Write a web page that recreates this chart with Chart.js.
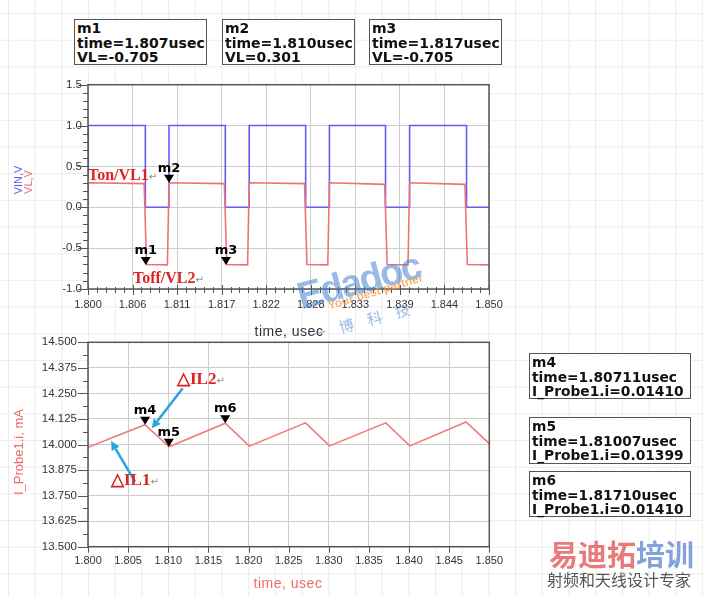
<!DOCTYPE html>
<html>
<head>
<meta charset="utf-8">
<script src="https://cdn.jsdelivr.net/npm/chart.js@4.4.1/dist/chart.umd.min.js"></script>
<style>
  body { margin: 0; }
  #page {
    position: relative; width: 703px; height: 597px; overflow: hidden;
    background-color: #fff;
    background-image:
      linear-gradient(to right, #ececec 1px, transparent 1px),
      linear-gradient(to bottom, #ececec 1px, transparent 1px);
    background-size: 26.7px 26.7px;
    background-position: 8px 13px;
    font-family: "Liberation Sans", Arial, sans-serif;
  }
  canvas { position: absolute; left: 0; }
  .box {
    position: absolute; box-sizing: border-box; background: #fff;
    border: 1.5px solid #555; padding: 1px 0 0 2px;
    font: bold 14px "DejaVu Sans", sans-serif; line-height: 14.5px; color: #111;
    white-space: nowrap;
  }
  .box.r { font-size: 13.8px; }
  .t { position: absolute; white-space: nowrap; line-height: 1; }
  .note { font: bold 16px "Liberation Serif", "Times New Roman", serif; color: #dd2222; }
  .ret { font: 10px "DejaVu Sans", sans-serif; color: #888; }
  .rot { transform: translate(-50%, -50%) rotate(-90deg); }
</style>
</head>
<body>
<div id="page">
  <canvas id="top" width="703" height="345" style="top:0"></canvas>
  <canvas id="bottom" width="703" height="277" style="top:320px"></canvas>

  <div class="box" style="left:74px;top:19px;width:133px;height:46px">m1<br>time=1.807usec<br>VL=-0.705</div>
  <div class="box" style="left:222px;top:19px;width:133px;height:46px">m2<br>time=1.810usec<br>VL=0.301</div>
  <div class="box" style="left:369px;top:19px;width:133px;height:46px">m3<br>time=1.817usec<br>VL=-0.705</div>

  <div class="box r" style="left:529px;top:353px;width:162px;height:46px">m4<br>time=1.80711usec<br>I_Probe1.i=0.01410</div>
  <div class="box r" style="left:529px;top:417px;width:162px;height:47px">m5<br>time=1.81007usec<br>I_Probe1.i=0.01399</div>
  <div class="box r" style="left:529px;top:471px;width:162px;height:46px">m6<br>time=1.81710usec<br>I_Probe1.i=0.01410</div>

  <div class="t rot" style="left:17.5px;top:180px;font-size:11px;color:#5a5af0">VIN,V</div>
  <div class="t rot" style="left:28px;top:182px;font-size:11px;color:#f06a70">VL,V</div>
  <div class="t" style="left:289px;top:331px;transform:translate(-50%,-50%);font-size:14px;letter-spacing:0.5px;color:#333">time, usec</div>
  <div class="t rot" style="left:18px;top:452px;font-size:13px;color:#ee6a6a">I_Probe1.i, mA</div>
  <div class="t" style="left:288px;top:583px;transform:translate(-50%,-50%);font-size:14px;letter-spacing:0.5px;color:#ee6a6a">time, usec</div>

  <div class="t note" style="left:88px;top:166px">Ton/VL1<span class="ret">↵</span></div>
  <div class="t note" style="left:133px;top:269px">Toff/VL2<span class="ret">↵</span></div>
  <div class="t note" style="left:177px;top:368px;font-size:17px">△IL2<span class="ret">↵</span></div>
  <div class="t note" style="left:111px;top:469px;font-size:17px">△IL1<span class="ret">↵</span></div>

  <div class="t" style="left:298px;top:276px;transform-origin:left center;transform:rotate(-15deg);font:bold 38px 'Liberation Sans',Arial,sans-serif;letter-spacing:-2px;color:rgba(70,130,205,0.55)">Edadoc</div>
  <div class="t" style="left:328px;top:299px;transform-origin:left center;transform:rotate(-17deg);font:bold 12px 'Liberation Sans',Arial,sans-serif;color:rgba(240,150,60,0.7)">Your best partner</div>
  <div class="t" style="left:311px;top:324px;transform-origin:left center;transform:rotate(-15deg);font:15px 'Noto Sans CJK SC',sans-serif;letter-spacing:14px;color:rgba(70,130,205,0.55)">一博科技</div>

  <div class="t" style="left:549px;top:538px;font:bold 29px 'Noto Sans CJK SC',sans-serif;line-height:30px"><span style="color:#e87a7a">易迪拓</span><span style="color:#84a2d8">培训</span></div>
  <div class="t" style="left:547px;top:571px;font:16px 'Noto Sans CJK SC',sans-serif;line-height:17px;color:#555">射频和天线设计专家</div>
</div>

<script>
// ---- top chart: VIN and VL versus time (usec)
const vinTime = [1.8, 1.80003, 1.80715, 1.80715, 1.8101, 1.8101, 1.81712, 1.81712, 1.8201, 1.8201,
                 1.82714, 1.82714, 1.8301, 1.8301, 1.8371, 1.8371, 1.8401, 1.8401, 1.8472, 1.8472, 1.85];
const vinValues = [0.35, 1, 1, 0, 0, 1, 1, 0, 0, 1,
                   1, 0, 0, 1, 1, 0, 0, 1, 1, 0, 0];

const vlTime = [1.8, 1.80003, 1.8070, 1.8073, 1.8099, 1.8101, 1.8170, 1.8173, 1.8199, 1.8201,
                1.8270, 1.8273, 1.8299, 1.8301, 1.8370, 1.8373, 1.8399, 1.8401, 1.8470, 1.8473, 1.85];
const vlValues = [-0.40, 0.30, 0.29, -0.70, -0.705, 0.30, 0.29, -0.70, -0.705, 0.30,
                  0.29, -0.70, -0.705, 0.30, 0.28, -0.70, -0.705, 0.30, 0.28, -0.70, -0.705];

const topXTicks = [1.8, 1.805556, 1.811111, 1.816667, 1.822222, 1.827778, 1.833333, 1.838889, 1.844444, 1.85];
const topYTicks = [-1.0, -0.5, 0.0, 0.5, 1.0, 1.5];

const topMarkerNames = ['m1', 'm2', 'm3'];
const topMarkerTime = [1.8072, 1.8101, 1.8172];
const topMarkerValue = [-0.705, 0.301, -0.705];

// ---- bottom chart: inductor current (mA)
const ilTime = [1.8, 1.8071, 1.8101, 1.8171, 1.8201, 1.8271, 1.8301, 1.8371, 1.8401, 1.8471, 1.85];
const ilValues = [13.986, 14.097, 13.989, 14.104, 13.992, 14.106, 13.993, 14.106, 13.993, 14.110, 14.004];

const bottomXTicks = [1.800, 1.805, 1.810, 1.815, 1.820, 1.825, 1.830, 1.835, 1.840, 1.845, 1.850];
const bottomYTicks = [13.5, 13.625, 13.75, 13.875, 14.0, 14.125, 14.25, 14.375, 14.5];

const bottomMarkerNames = ['m4', 'm5', 'm6'];
const bottomMarkerTime = [1.80711, 1.81007, 1.8171];
const bottomMarkerValue = [14.097, 13.989, 14.104];

// delta-IL arrows: [fromTime, fromValue, toTime, toValue]
const ilArrows = [
  [1.81180, 14.275, 1.80794, 14.079],
  [1.80586, 13.818, 1.80287, 14.017]
];

const pts = (xs, ys) => xs.map((x, i) => ({ x, y: ys[i] }));

function minorBetween(majors, parts) {
  const out = [];
  for (let i = 0; i < majors.length - 1; i++) {
    for (let k = 1; k < parts; k++) out.push(majors[i] + (majors[i + 1] - majors[i]) * k / parts);
  }
  return out;
}

// white plot area, frame, tick marks, markers, arrows
const plotDeco = {
  id: 'plotDeco',
  beforeDraw(chart) {
    const { ctx, chartArea: a } = chart;
    ctx.save();
    ctx.fillStyle = '#fff';
    ctx.fillRect(a.left, a.top, a.right - a.left, a.bottom - a.top);
    ctx.restore();
  },
  afterDatasetsDraw(chart, args, o) {
    const { ctx, chartArea: a, scales: { x, y } } = chart;
    ctx.save();
    ctx.strokeStyle = '#555';
    ctx.lineWidth = 1.5;
    ctx.strokeRect(a.left, a.top, a.right - a.left, a.bottom - a.top);

    ctx.lineWidth = 1;
    ctx.beginPath();
    o.xMajor.forEach(v => {
      const px = Math.round(x.getPixelForValue(v)) + 0.5;
      ctx.moveTo(px, a.bottom - o.xMajorLen[0]); ctx.lineTo(px, a.bottom + o.xMajorLen[1]);
    });
    o.xMinor.forEach(v => {
      const px = Math.round(x.getPixelForValue(v)) + 0.5;
      ctx.moveTo(px, a.bottom - o.xMinorLen[0]); ctx.lineTo(px, a.bottom + o.xMinorLen[1]);
    });
    o.yMajor.forEach(v => {
      const py = Math.round(y.getPixelForValue(v)) + 0.5;
      ctx.moveTo(a.left - o.yMajorLen, py); ctx.lineTo(a.left, py);
    });
    o.yMinor.forEach(v => {
      const py = Math.round(y.getPixelForValue(v)) + 0.5;
      ctx.moveTo(a.left - o.yMinorLen, py); ctx.lineTo(a.left, py);
    });
    ctx.stroke();

    // marker triangles, tip on the data point
    ctx.fillStyle = '#000';
    ctx.font = 'bold 13px "DejaVu Sans", sans-serif';
    ctx.textAlign = 'center';
    ctx.textBaseline = 'bottom';
    o.markers.names.forEach((name, i) => {
      const px = x.getPixelForValue(o.markers.time[i]);
      const py = y.getPixelForValue(o.markers.value[i]);
      ctx.beginPath();
      ctx.moveTo(px, py);
      ctx.lineTo(px - 5, py - 8);
      ctx.lineTo(px + 5, py - 8);
      ctx.closePath();
      ctx.fill();
      ctx.fillText(name, px, py - 8);
    });

    // arrows
    ctx.strokeStyle = '#27a4dd';
    ctx.fillStyle = '#27a4dd';
    ctx.lineWidth = 2.5;
    (o.arrows || []).forEach(([t0, v0, t1, v1]) => {
      const x0 = x.getPixelForValue(t0), y0 = y.getPixelForValue(v0);
      const x1 = x.getPixelForValue(t1), y1 = y.getPixelForValue(v1);
      const ang = Math.atan2(y1 - y0, x1 - x0);
      const hx = x1 - 9 * Math.cos(ang), hy = y1 - 9 * Math.sin(ang);
      ctx.beginPath(); ctx.moveTo(x0, y0); ctx.lineTo(hx, hy); ctx.stroke();
      ctx.beginPath();
      ctx.moveTo(x1, y1);
      ctx.lineTo(hx + 4.5 * Math.sin(ang), hy - 4.5 * Math.cos(ang));
      ctx.lineTo(hx - 4.5 * Math.sin(ang), hy + 4.5 * Math.cos(ang));
      ctx.closePath();
      ctx.fill();
    });
    ctx.restore();
  }
};

const tickFont = { family: '"Liberation Sans", Arial, sans-serif', size: 11 };
const gridOpts = { color: '#cdcdcd', lineWidth: 1, drawTicks: false };

function makeChart(id, cfg) {
  return new Chart(document.getElementById(id), {
    type: 'line',
    data: { datasets: cfg.datasets },
    plugins: [plotDeco],
    options: {
      responsive: false,
      animation: false,
      devicePixelRatio: 1,
      layout: { padding: cfg.padding },
      elements: { point: { radius: 0 }, line: { tension: 0 } },
      plugins: {
        legend: { display: false },
        tooltip: { enabled: false },
        plotDeco: cfg.deco
      },
      scales: {
        x: {
          type: 'linear', min: 1.8, max: 1.85,
          border: { display: false },
          grid: gridOpts,
          afterBuildTicks: s => { s.ticks = cfg.xTicks.map(v => ({ value: v })); },
          afterFit: s => { s.height = cfg.xHeight; },
          ticks: {
            autoSkip: false, maxRotation: 0, padding: cfg.xPad,
            color: '#333', font: tickFont,
            callback: v => v.toFixed(3)
          }
        },
        y: {
          type: 'linear', min: cfg.yMin, max: cfg.yMax,
          border: { display: false },
          grid: gridOpts,
          afterBuildTicks: s => { s.ticks = cfg.yTicks.map(v => ({ value: v })); },
          afterFit: s => { s.width = 88; },
          ticks: {
            autoSkip: false, padding: cfg.yPad,
            color: '#333', font: { family: tickFont.family, size: 11.5 },
            callback: v => v.toFixed(cfg.yDigits)
          }
        }
      }
    }
  });
}

makeChart('top', {
  padding: { top: 84.7, left: 0, right: 214, bottom: 0 },
  xHeight: 56, xPad: 9, yPad: 6,
  xTicks: topXTicks, yTicks: topYTicks, yMin: -1, yMax: 1.5, yDigits: 1,
  datasets: [
    { data: pts(vlTime, vlValues), borderColor: '#f0707a', borderWidth: 1.6 },
    { data: pts(vinTime, vinValues), borderColor: '#6060f0', borderWidth: 1.6 }
  ],
  deco: {
    xMajor: topXTicks, xMinor: minorBetween(topXTicks, 5),
    xMajorLen: [4, 6], xMinorLen: [2, 4],
    yMajor: topYTicks, yMinor: minorBetween(topYTicks, 5),
    yMajorLen: 10, yMinorLen: 5,
    markers: { names: topMarkerNames, time: topMarkerTime, value: topMarkerValue }
  }
});

makeChart('bottom', {
  padding: { top: 22.3, left: 0, right: 213.7, bottom: 0 },
  xHeight: 50.3, xPad: 8, yPad: 11,
  xTicks: bottomXTicks, yTicks: bottomYTicks, yMin: 13.5, yMax: 14.5, yDigits: 3,
  datasets: [
    { data: pts(ilTime, ilValues), borderColor: '#ee7b7b', borderWidth: 1.6 }
  ],
  deco: {
    xMajor: bottomXTicks, xMinor: [],
    xMajorLen: [0, 6], xMinorLen: [0, 0],
    yMajor: bottomYTicks, yMinor: minorBetween(bottomYTicks, 2),
    yMajorLen: 10, yMinorLen: 5,
    markers: { names: bottomMarkerNames, time: bottomMarkerTime, value: bottomMarkerValue },
    arrows: ilArrows
  }
});
</script>
</body>
</html>
